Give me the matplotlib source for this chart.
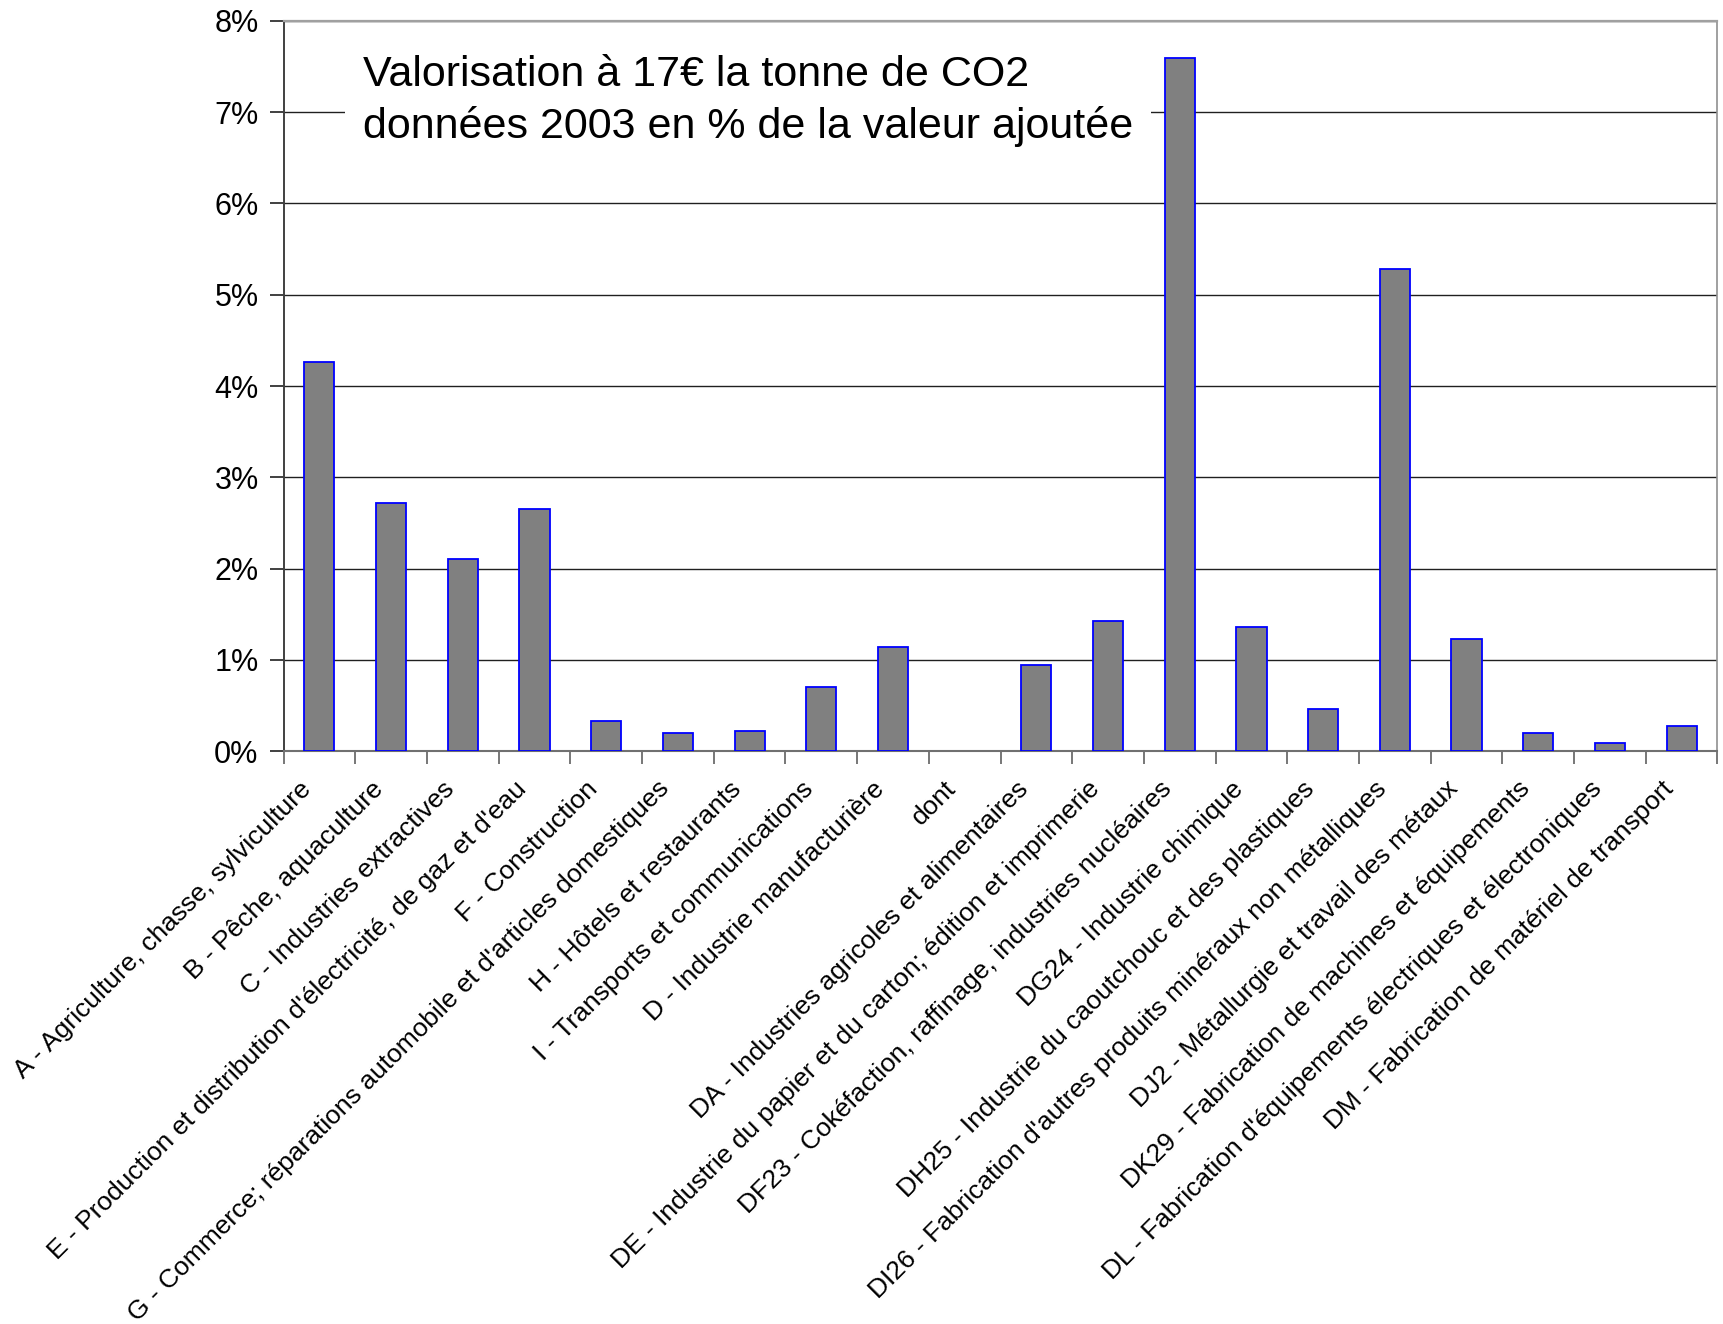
import numpy as np
import matplotlib
matplotlib.use("Agg")
import matplotlib.pyplot as plt
from matplotlib.transforms import ScaledTranslation

plt.rcParams['font.family'] = ['Liberation Sans', 'DejaVu Sans']

categories = [
    "A - Agriculture, chasse, sylviculture",
    "B - Pêche, aquaculture",
    "C - Industries extractives",
    "E - Production et distribution d'électricité, de gaz et d'eau",
    "F - Construction",
    "G - Commerce; réparations automobile et d'articles domestiques",
    "H - Hôtels et restaurants",
    "I - Transports et communications",
    "D - Industrie manufacturière",
    "dont",
    "DA - Industries agricoles et alimentaires",
    "DE - Industrie du papier et du carton; édition et imprimerie",
    "DF23 - Cokéfaction, raffinage, industries nucléaires",
    "DG24 - Industrie chimique",
    "DH25 - Industrie du caoutchouc et des plastiques",
    "DI26 - Fabrication d'autres produits minéraux non métalliques",
    "DJ2 - Métallurgie et travail des métaux",
    "DK29 - Fabrication de machines et équipements",
    "DL - Fabrication d'équipements électriques et électroniques",
    "DM - Fabrication de matériel de transport",
]
values = [4.26, 2.72, 2.10, 2.65, 0.33, 0.20, 0.22, 0.70, 1.14, np.nan,
          0.94, 1.43, 7.59, 1.36, 0.46, 5.28, 1.23, 0.20, 0.09, 0.27]
y_ticks = [0, 1, 2, 3, 4, 5, 6, 7, 8]
y_ticklabels = ["0%", "1%", "2%", "3%", "4%", "5%", "6%", "7%", "8%"]
title = "Valorisation à 17€ la tonne de CO2\ndonnées 2003 en % de la valeur ajoutée"

fig = plt.figure(figsize=(17.24, 13.24), dpi=100)
ax = fig.add_axes([0.1645, 0.4327, 0.8317, 0.5515])

x = np.arange(len(categories))
ax.bar(x, values, width=0.42, color='#808080', edgecolor='#0000FF', linewidth=1.3, zorder=3)

ax.set_xlim(-0.5, len(categories) - 0.5)
ax.set_ylim(0, 8)
ax.set_yticks(y_ticks)
ax.set_yticklabels(y_ticklabels, fontsize=22)
ax.yaxis.grid(True, color='#202020', linewidth=1.0, zorder=0)
ax.set_axisbelow(True)

# category ticks at boundaries, labels drawn at centres
ax.set_xticks(np.arange(-0.5, len(categories), 1.0))
ax.set_xticklabels([])
ax.tick_params(axis='x', which='major', length=9, width=1.2, color='#606060', direction='out')
ax.tick_params(axis='y', which='major', length=10, width=1.2, color='#202020', pad=8, direction='out')

label_tr = ax.get_xaxis_transform() + ScaledTranslation(-0.12, -0.34, fig.dpi_scale_trans)
for xi, lab in zip(x, categories):
    ax.text(xi, 0, lab, transform=label_tr, rotation=45, ha='right', va='center',
            rotation_mode='anchor', fontsize=19, clip_on=False)

ax.spines['top'].set_color('#a0a0a0')
ax.spines['top'].set_linewidth(1.6)
ax.spines['right'].set_color('#909090')
ax.spines['right'].set_linewidth(1.2)
ax.spines['left'].set_color('#404040')
ax.spines['left'].set_linewidth(1.4)
ax.spines['bottom'].set_color('#707070')
ax.spines['bottom'].set_linewidth(1.5)

fig.text(0.2105, 0.924, title, fontsize=31, va='center', ha='left',
         linespacing=1.34,
         bbox=dict(boxstyle='square,pad=0.42', facecolor='white', edgecolor='none'),
         zorder=5)

fig.savefig("out.png", dpi=100, facecolor='white')
